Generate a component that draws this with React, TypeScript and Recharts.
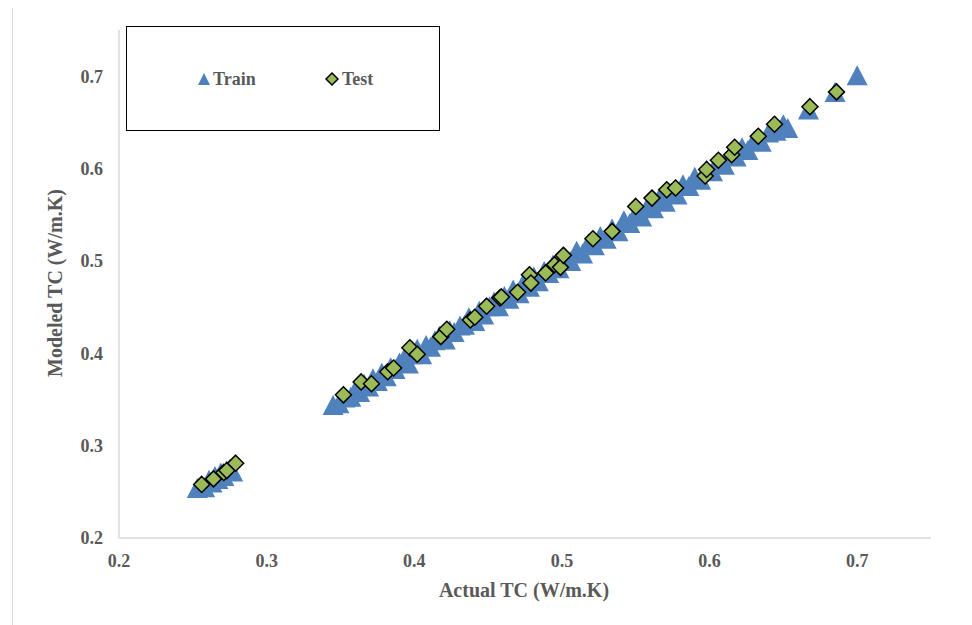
import React from 'react'
import { ScatterChart, Scatter, XAxis, YAxis } from 'recharts'

const xTicks = [0.2, 0.3, 0.4, 0.5, 0.6, 0.7]
const yTicks = [0.2, 0.3, 0.4, 0.5, 0.6, 0.7]

// Train set: [actual, modeled]
const trainActual = [
  0.253, 0.256, 0.258, 0.261, 0.263, 0.265, 0.267, 0.269, 0.271, 0.273, 0.275, 0.277,
  0.345, 0.349, 0.353, 0.357, 0.36, 0.363, 0.366, 0.369, 0.372, 0.375, 0.378, 0.381,
  0.384, 0.387, 0.39, 0.393, 0.396, 0.399, 0.402, 0.405, 0.408, 0.411, 0.414, 0.417,
  0.421, 0.424, 0.427, 0.431, 0.434, 0.437, 0.441, 0.444, 0.447, 0.451, 0.454, 0.457,
  0.461, 0.464, 0.467, 0.471, 0.474, 0.478, 0.481, 0.484, 0.488, 0.491, 0.494, 0.498,
  0.502, 0.506, 0.51, 0.514, 0.518, 0.522, 0.526, 0.53, 0.534, 0.538, 0.542, 0.546,
  0.55, 0.554, 0.558, 0.562, 0.566, 0.57, 0.574, 0.578, 0.582, 0.586, 0.59, 0.594,
  0.598, 0.602, 0.606, 0.61, 0.614, 0.618, 0.622, 0.626, 0.63, 0.635, 0.64, 0.645,
  0.65, 0.653, 0.667, 0.685, 0.7,
]
const trainModeled = [
  0.254, 0.257, 0.255, 0.263, 0.26, 0.267, 0.264, 0.271, 0.267, 0.273, 0.275, 0.272,
  0.344, 0.346, 0.352, 0.353, 0.36, 0.358, 0.367, 0.364, 0.373, 0.37, 0.379, 0.375,
  0.385, 0.383, 0.39, 0.394, 0.389, 0.399, 0.405, 0.399, 0.409, 0.407, 0.414, 0.419,
  0.415, 0.425, 0.423, 0.43, 0.431, 0.439, 0.435, 0.446, 0.442, 0.451, 0.456, 0.451,
  0.462, 0.459, 0.469, 0.465, 0.476, 0.472, 0.483, 0.478, 0.489, 0.487, 0.496, 0.492,
  0.504, 0.5, 0.511, 0.508, 0.519, 0.517, 0.527, 0.524, 0.535, 0.532, 0.544, 0.541,
  0.551, 0.548, 0.559, 0.557, 0.568, 0.564, 0.574, 0.572, 0.583, 0.581, 0.591, 0.588,
  0.599, 0.597, 0.607, 0.604, 0.615, 0.613, 0.623, 0.62, 0.63, 0.629, 0.639, 0.641,
  0.648, 0.644, 0.664, 0.683, 0.701,
]

// Test set: [actual, modeled]
const testActual = [
  0.256, 0.264, 0.271, 0.273, 0.279, 0.352, 0.364, 0.371, 0.382, 0.386, 0.397, 0.402,
  0.418, 0.422, 0.438, 0.441, 0.449, 0.458, 0.459, 0.47, 0.478, 0.479, 0.489, 0.495,
  0.499, 0.501, 0.521, 0.534, 0.55, 0.561, 0.571, 0.577, 0.597, 0.598, 0.606, 0.615,
  0.617, 0.633, 0.644, 0.668, 0.686,
]
const testModeled = [
  0.258, 0.264, 0.271, 0.273, 0.281, 0.355, 0.369, 0.367, 0.38, 0.384, 0.406, 0.399,
  0.418, 0.426, 0.436, 0.439, 0.451, 0.46, 0.461, 0.466, 0.485, 0.476, 0.487, 0.496,
  0.493, 0.506, 0.524, 0.532, 0.559, 0.568, 0.577, 0.579, 0.592, 0.599, 0.609, 0.615,
  0.623, 0.635, 0.648, 0.667, 0.683,
]

const trainData = trainActual.map((x, i) => ({ x, y: trainModeled[i] }))
const testData = testActual.map((x, i) => ({ x, y: testModeled[i] }))

const BLUE = '#4F81BD'
const GREEN = '#9BBB59'
const TEXT = '#595959'
const SERIF = '"Liberation Serif", "Times New Roman", serif'

const Triangle = (props: any) => {
  const { cx, cy } = props
  const w = 10.5
  const h = 10
  return (
    <polygon
      points={`${cx},${cy - h} ${cx + w},${cy + h} ${cx - w},${cy + h}`}
      fill={BLUE}
    />
  )
}

const Diamond = (props: any) => {
  const { cx, cy } = props
  const r = 8
  return (
    <polygon
      points={`${cx},${cy - r} ${cx + r},${cy} ${cx},${cy + r} ${cx - r},${cy}`}
      fill={GREEN}
      stroke="#000"
      strokeWidth={1.5}
    />
  )
}

const tickStyle = { fill: TEXT, fontFamily: SERIF, fontWeight: 'bold', fontSize: 18 }

export default function App() {
  return (
    <div
      style={{
        position: 'relative',
        width: 972,
        height: 625,
        margin: '-8px 0 0 -8px',
        overflow: 'hidden',
        background: '#fff',
      }}
    >
      <div
        style={{
          position: 'absolute',
          left: 12,
          top: 7,
          width: 972,
          height: 625,
          borderTop: '1px solid #D9D9D9',
          borderLeft: '1px solid #D9D9D9',
        }}
      />
      <div style={{ position: 'absolute', left: 0, top: 0 }}>
        <ScatterChart width={972} height={625} margin={{ top: 30, right: 41, bottom: 57, left: 59 }}>
          <XAxis
            type="number"
            dataKey="x"
            domain={[0.2, 0.75]}
            ticks={xTicks}
            tickFormatter={(v: number) => v.toFixed(1)}
            height={30}
            tickLine={false}
            tickSize={0}
            tickMargin={16}
            axisLine={{ stroke: '#D9D9D9', strokeWidth: 1.5 }}
            tick={tickStyle}
            allowDataOverflow
          />
          <YAxis
            type="number"
            dataKey="y"
            domain={[0.2, 0.75]}
            ticks={yTicks}
            tickFormatter={(v: number) => v.toFixed(1)}
            width={60}
            tickLine={false}
            tickSize={0}
            tickMargin={16}
            axisLine={{ stroke: '#D9D9D9', strokeWidth: 1.5 }}
            tick={tickStyle}
            allowDataOverflow
          />
          <Scatter name="Train" data={trainData} shape={Triangle} isAnimationActive={false} />
          <Scatter name="Test" data={testData} shape={Diamond} isAnimationActive={false} />
        </ScatterChart>
      </div>

      {/* legend box */}
      <div
        style={{
          position: 'absolute',
          left: 126,
          top: 26,
          width: 312,
          height: 103,
          border: '1.5px solid #000',
          background: '#fff',
        }}
      >
        <svg width={312} height={103} style={{ position: 'absolute', left: 0, top: 0 }}>
          <polygon points="77,46 83,58 71,58" fill={BLUE} />
          <text x={86} y={58} fill={TEXT} fontFamily={SERIF} fontWeight="bold" fontSize={18}>
            Train
          </text>
          <polygon points="205,46 211,52 205,58 199,52" fill={GREEN} stroke="#000" strokeWidth={1.5} />
          <text x={215} y={58} fill={TEXT} fontFamily={SERIF} fontWeight="bold" fontSize={18}>
            Test
          </text>
        </svg>
      </div>

      {/* axis titles */}
      <div
        style={{
          position: 'absolute',
          left: 324,
          width: 400,
          top: 578,
          textAlign: 'center',
          color: TEXT,
          fontFamily: SERIF,
          fontWeight: 'bold',
          fontSize: 20,
          lineHeight: '24px',
        }}
      >
        Actual TC (W/m.K)
      </div>
      <div
        style={{
          position: 'absolute',
          left: 55 - 200,
          top: 283 - 12,
          width: 400,
          textAlign: 'center',
          color: TEXT,
          fontFamily: SERIF,
          fontWeight: 'bold',
          fontSize: 20,
          lineHeight: '24px',
          transform: 'rotate(-90deg)',
        }}
      >
        Modeled TC (W/m.K)
      </div>
    </div>
  )
}
